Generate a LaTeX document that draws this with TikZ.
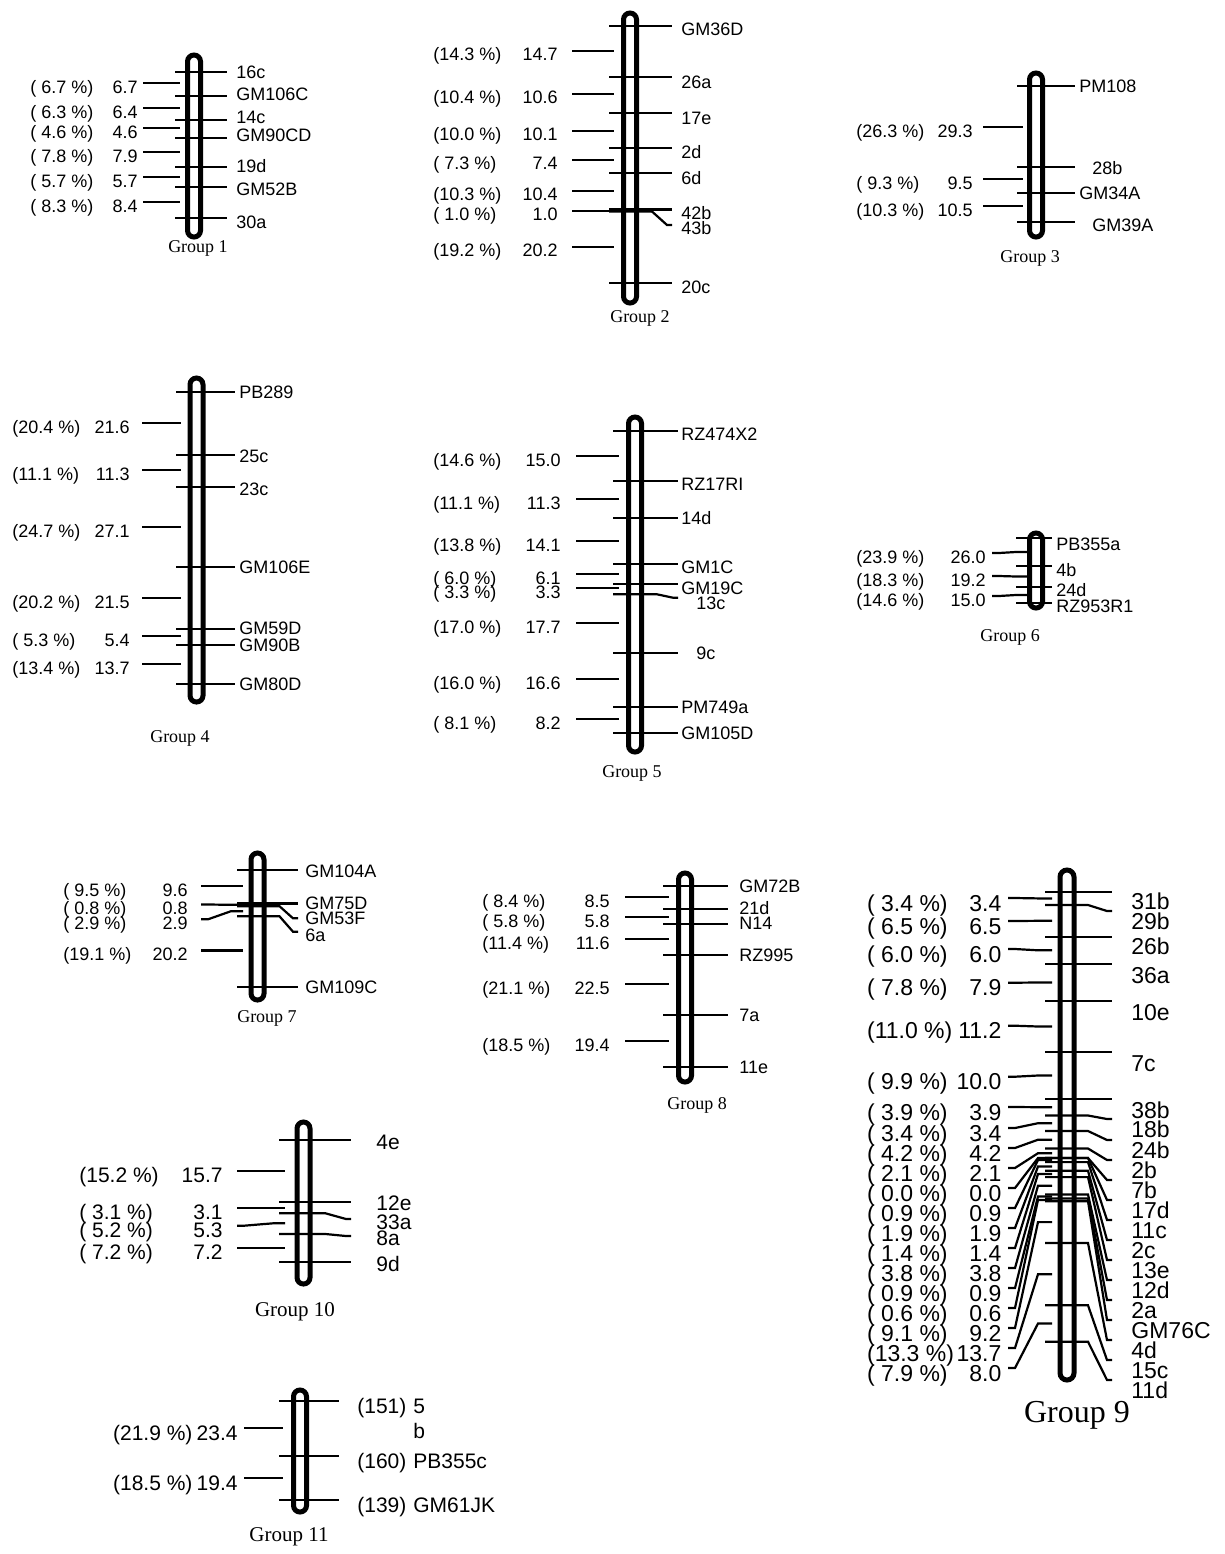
\documentclass[tikz,border=0pt]{standalone}
\usepackage{fontspec}
\setmainfont{Liberation Serif}
\newfontfamily\arialf{Liberation Sans}
\newcommand\lmsize{\fontsize{9}{10}\selectfont}
\newcommand\lmbo{6.4}
\def\qka{22}\def\qlk{12}\def\qto{4}
\tikzset{
  barline/.style={line width=2.5pt, rounded corners=3.25pt},
  tickline/.style={line width=1.1pt},
  mk/.style={anchor=base west, inner sep=0pt, font=\arialf\lmsize},
  num/.style={anchor=base east, inner sep=0pt, font=\arialf\lmsize},
  pct/.style={anchor=base west, inner sep=0pt, font=\arialf\lmsize},
  grp/.style={inner sep=0pt, font=\fontsize{9}{10}\selectfont},
}
\newcommand\lmmarks[2]{\foreach \ty/\ey/\ly/\nm [count=\i] in {#2}{%
  \draw[tickline] (\qtl,\ty) -- (\qcx+\qka,\ty) -- (\qtr-5,\ey) -- (\qtr,\ey);
  \node[mk] (#1m\i) at (\qlx,\ly+\lmbo) {\nm};}}
\newcommand\lmivals[2]{\foreach \sy/\ey/\nu/\pc [count=\i] in {#2}{%
  \draw[tickline] (\qll,\sy) -- (\qll+7,\sy) -- (\qlr-\qlk,\ey) -- (\qlr,\ey);
  \node[num] (#1n\i) at (\qnx,\sy+\qto+\lmbo) {\nu};
  \node[pct] (#1p\i) at (\qpx,\sy+\qto+\lmbo) {\pc};}}
\begin{document}
\begin{tikzpicture}[x=0.5pt,y=-0.5pt]
\useasboundingbox (0,0) rectangle (1225,1554);

% ---------------- Group 1
\begin{scope}
\def\qcx{194}\def\qtl{175}\def\qtr{227}\def\qlx{236}
\def\qll{143}\def\qlr{180}\def\qnx{138}\def\qpx{30}
\draw[barline] (\qcx-6.5,55) rectangle (\qcx+6.5,237);
\lmmarks{ga}{71.7/71.7/72/16c, 95.7/95.7/94/GM106C, 120/120/117/14c, 137.7/137.7/135/GM90CD, 166.7/166.7/166/19d, 187.3/187.3/189/GM52B, 218.3/218.3/222/30a}
\lmivals{ga}{82.7/82.7/6.7/( 6.7 \%), 108.3/108.3/6.4/( 6.3 \%), 128.3/128.3/4.6/( 4.6 \%), 151.7/151.7/7.9/( 7.8 \%), 176.7/176.7/5.7/( 5.7 \%), 202.3/202.3/8.4/( 8.3 \%)}
\node[grp] (gat) at (198,248) {Group 1};
\end{scope}

% ---------------- Group 2
\begin{scope}
\def\qcx{630}\def\qtl{609}\def\qtr{672}\def\qlx{681}
\def\qll{572}\def\qlr{614}\def\qnx{558}\def\qpx{433}\def\qto{3}
\draw[barline] (\qcx-6.5,13) rectangle (\qcx+6.5,303);
\lmmarks{gb}{25.7/25.7/29.3/GM36D, 77.3/77.3/81.7/26a, 113.3/113.3/118.3/17e, 148.3/148.3/151.7/2d, 173.3/173.3/178.3/6d, 209.5/209.5/213/42b, 211.5/225/227.7/43b, 283.3/283.3/287.3/20c}
\lmivals{gb}{50.7/50.7/14.7/(14.3 \%), 94.3/94.3/10.6/(10.4 \%), 130.7/130.7/10.1/(10.0 \%), 160.3/160.3/7.4/( 7.3 \%), 190.7/190.7/10.4/(10.3 \%), 210.7/210.7/1.0/( 1.0 \%), 247/247/20.2/(19.2 \%)}
\node[grp] (gbt) at (640,318) {Group 2};
\end{scope}

% ---------------- Group 3
\begin{scope}
\def\qcx{1036}\def\qtl{1017}\def\qtr{1075}\def\qlx{1079}
\def\qll{983}\def\qlr{1023}\def\qnx{973}\def\qpx{856}
\draw[barline] (\qcx-6.5,73) rectangle (\qcx+6.5,237);
\lmmarks{gc}{86/86/86/PM108, 192.7/192.7/193/GM34A}
\def\qlx{1092}
\lmmarks{gcb}{167.3/167.3/168/28b, 221.7/221.7/225/GM39A}
\lmivals{gc}{126.7/126.7/29.3/(26.3 \%), 179.3/179.3/9.5/( 9.3 \%), 206/206/10.5/(10.3 \%)}
\node[grp] (gct) at (1030,258) {Group 3};
\end{scope}

% ---------------- Group 4
\begin{scope}
\def\qcx{196.5}\def\qtl{176}\def\qtr{235}\def\qlx{239}
\def\qll{142}\def\qlr{181}\def\qnx{130}\def\qpx{12}
\draw[barline] (\qcx-6.5,378) rectangle (\qcx+6.5,702);
\lmmarks{gd}{392.3/392.3/392/PB289, 455.3/455.3/456/25c, 487.3/487.3/489/23c, 566.7/566.7/567/GM106E, 628.7/628.7/628/GM59D, 645/645/645/GM90B, 684/684/684/GM80D}
\lmivals{gd}{422.7/422.7/21.6/(20.4 \%), 470/470/11.3/(11.1 \%), 526.7/526.7/27.1/(24.7 \%), 597.7/597.7/21.5/(20.2 \%), 636/636/5.4/( 5.3 \%), 664.3/664.3/13.7/(13.4 \%)}
\node[grp] (gdt) at (180,738) {Group 4};
\end{scope}

% ---------------- Group 5
\begin{scope}
\def\qcx{635}\def\qtl{613}\def\qtr{678}\def\qlx{681}
\def\qll{576}\def\qlr{619}\def\qnx{561}\def\qpx{433}
\draw[barline] (\qcx-6.5,417) rectangle (\qcx+6.5,752);
\lmmarks{ge}{431/431/434.3/RZ474X2, 481/481/484.3/RZ17RI, 517.7/517.7/518.3/14d, 564/564/567.3/GM1C, 584/584/587.7/GM19C, 706.7/706.7/707.3/PM749a, 732.7/732.7/733.3/GM105D}
\def\qlx{696}
\lmmarks{geb}{594.3/597.7/603.3/13c, 652.7/652.7/652.7/9c}
\lmivals{ge}{456/456/15.0/(14.6 \%), 499/499/11.3/(11.1 \%), 540.7/540.7/14.1/(13.8 \%), 573.7/573.7/6.1/( 6.0 \%), 588.3/588.3/3.3/( 3.3 \%), 623.3/623.3/17.7/(17.0 \%), 679.3/679.3/16.6/(16.0 \%), 718.7/718.7/8.2/( 8.1 \%)}
\node[grp] (get) at (632,773) {Group 5};
\end{scope}

% ---------------- Group 6
\begin{scope}
\def\qcx{1036}\def\qtl{1016}\def\qtr{1052}\def\qlx{1056}\def\qka{10}
\def\qll{992}\def\qlr{1028}\def\qnx{986}\def\qpx{856}
\draw[barline] (\qcx-6.5,533) rectangle (\qcx+6.5,608);
\lmmarks{gf}{538/538/544/PB355a, 566/566/570/4b, 587/587/590/24d, 603/603/606/RZ953R1}
\lmivals{gf}{553/552/26.0/(23.9 \%), 576/576.5/19.2/(18.3 \%), 596/595/15.0/(14.6 \%)}
\node[grp] (gft) at (1010,637) {Group 6};
\end{scope}

% ---------------- Group 7
\begin{scope}
\def\qcx{257.5}\def\qtl{237}\def\qtr{298}\def\qlx{305}
\def\qll{201}\def\qlr{243}\def\qnx{188}\def\qpx{63}
\draw[barline] (\qcx-6.5,853) rectangle (\qcx+6.5,1000);
\lmmarks{gg}{870/870/870.7/GM104A, 903.4/903.4/902.7/GM75D, 906.2/918.3/918.3/GM53F, 916.3/931.7/935/6a, 986.7/986.7/986.7/GM109C}
\lmivals{gg}{886/886/9.6/( 9.5 \%), 904.5/904.8/0.8/( 0.8 \%), 919.3/911.2/2.9/( 2.9 \%), 950.5/950.5/20.2/(19.1 \%)}
\node[grp] (ggt) at (267,1018) {Group 7};
\end{scope}

% ---------------- Group 8
\begin{scope}
\def\qcx{685}\def\qtl{663}\def\qtr{728}\def\qlx{739}
\def\qll{625}\def\qlr{669}\def\qnx{610}\def\qpx{482}
\draw[barline] (\qcx-6.5,873) rectangle (\qcx+6.5,1082);
\lmmarks{gh}{885.7/885.7/885.7/GM72B, 909/909/907.7/21d, 924/924/923.3/N14, 955/955/955/RZ995, 1015/1015/1015/7a, 1066.7/1066.7/1066.7/11e}
\lmivals{gh}{897.3/897.3/8.5/( 8.4 \%), 916.7/916.7/5.8/( 5.8 \%), 939.3/939.3/11.6/(11.4 \%), 984.3/984.3/22.5/(21.1 \%), 1041/1041/19.4/(18.5 \%)}
\node[grp] (ght) at (697,1105) {Group 8};
\end{scope}

% ---------------- Group 9
\begin{scope}
\def\lmsize{\fontsize{11.5}{12}\selectfont}\def\lmbo{8.2}
\def\qcx{1067}\def\qtl{1045}\def\qtr{1112}\def\qlx{1131}\def\qka{21}
\def\qll{1008}\def\qlr{1052}\def\qlk{14}\def\qnx{1001.7}\def\qpx{866.7}\def\qto{5}
\draw[barline, rounded corners=3.5pt] (\qcx-7,870) rectangle (\qcx+7,1380);
\lmmarks{gi}{891.7/891.7/901.7/31b, 905/911/921/29b, 936.7/936.7/946.7/26b, 964/964/975/36a, 1001/1001/1012/10e, 1052/1052/1063/7c, 1099/1099/1110/38b, 1115.5/1119/1129/18b, 1131/1140/1150/24b, 1148.5/1160/1170/2b, 1158/1180/1190/7b, 1158/1200/1210/17d, 1162.1/1220/1230/11c, 1170.8/1240/1250/2c, 1177.1/1260/1270/13e, 1194.4/1280/1290/12d, 1198.5/1300/1310/2a, 1201.2/1320/1330/GM76C, 1243/1340/1350/4d, 1305.3/1360/1370/15c, 1341.7/1380/1390/11d}
\lmivals{gi}{898/898.4/3.4/( 3.4 \%), 921/920.8/6.5/( 6.5 \%), 949/950.3/6.0/( 6.0 \%), 982.7/982.5/7.9/( 7.8 \%), 1025.7/1026.5/11.2/(11.0 \%), 1076.7/1075.5/10.0/( 9.9 \%), 1107/1107.2/3.9/( 3.9 \%), 1128/1123.2/3.4/( 3.4 \%), 1148/1139.7/4.2/( 4.2 \%), 1168/1153.2/2.1/( 2.1 \%), 1188/1158/0.0/( 0.0 \%), 1208/1160/0.9/( 0.9 \%), 1228/1166.5/1.9/( 1.9 \%), 1248/1174/1.4/( 1.4 \%), 1268/1185.7/3.8/( 3.8 \%), 1288/1196.5/0.9/( 0.9 \%), 1308/1199.9/0.6/( 0.6 \%), 1328/1222.1/9.2/( 9.1 \%), 1348/1274.2/13.7/(13.3 \%), 1368/1323.5/8.0/( 7.9 \%)}
\node[grp, font=\fontsize{16}{18}\selectfont] (git) at (1077,1415) {Group 9};
\end{scope}

% ---------------- Group 10
\begin{scope}
\def\lmsize{\fontsize{10.5}{12}\selectfont}\def\lmbo{7.5}
\def\qcx{303.5}\def\qtl{279}\def\qtr{351}\def\qlx{376}
\def\qll{237}\def\qlr{285}\def\qnx{223}\def\qpx{79}
\draw[barline] (\qcx-6.5,1122) rectangle (\qcx+6.5,1284);
\lmmarks{gj}{1140/1140/1141.7/4e, 1202.3/1202.3/1203.3/12e, 1213.3/1219/1221.7/33a, 1234/1236/1238.3/8a, 1262.3/1262.3/1264/9d}
\lmivals{gj}{1171/1171/15.7/(15.2 \%), 1207.7/1207.7/3.1/( 3.1 \%), 1225.7/1223.3/5.3/( 5.2 \%), 1247.7/1247.7/7.2/( 7.2 \%)}
\node[grp, font=\fontsize{10.5}{12}\selectfont] (gjt) at (295,1311.7) {Group 10};
\end{scope}

% ---------------- Group 11
\begin{scope}
\def\lmsize{\fontsize{10.5}{12}\selectfont}\def\lmbo{7.5}
\def\qcx{300}\def\qtl{279}\def\qtr{339}\def\qlx{413}
\def\qll{244}\def\qlr{283}\def\qnx{238}\def\qpx{112.7}\def\qto{5}
\draw[barline] (\qcx-6.5,1390) rectangle (\qcx+6.5,1512);
\lmmarks{gk}{1401/1401/1406/5, 1455.7/1455.7/1461/PB355c, 1500/1500/1505/GM61JK}
\node[mk] (gkb) at (413,1431+\lmbo) {b};
\node[mk] (gkc1) at (357,1406+\lmbo) {(151)};
\node[mk] (gkc2) at (357,1461+\lmbo) {(160)};
\node[mk] (gkc3) at (357,1505+\lmbo) {(139)};
\lmivals{gk}{1428.3/1428.3/23.4/(21.9 \%), 1477.7/1477.7/19.4/(18.5 \%)}
\node[grp, font=\fontsize{10.5}{12}\selectfont] (gkt) at (289,1537) {Group 11};
\end{scope}
\end{tikzpicture}
\end{document}
